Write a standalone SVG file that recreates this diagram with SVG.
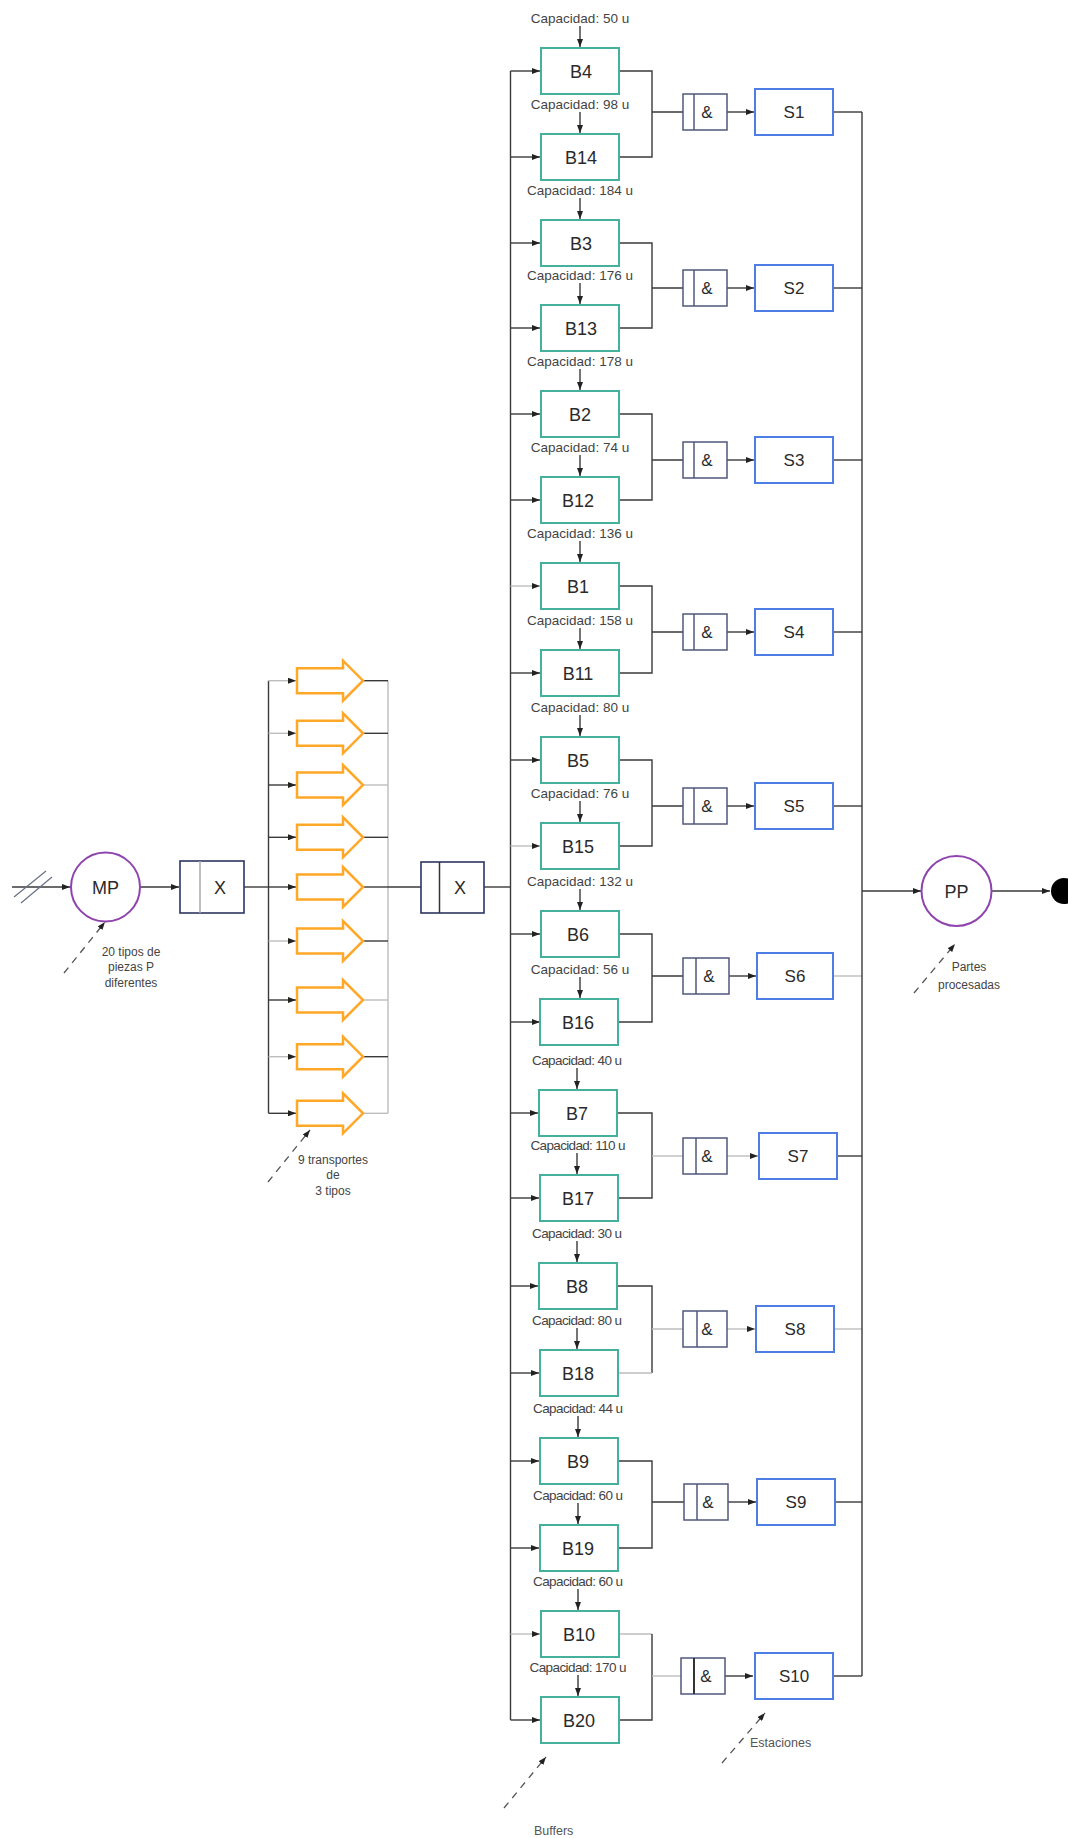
<svg xmlns="http://www.w3.org/2000/svg" xmlns:xlink="http://www.w3.org/1999/xlink" width="1068" height="1838" viewBox="0 0 1068 1838">
<style>
.bx{fill:#fff;stroke:#45b09c;stroke-width:2}
.st{fill:#fff;stroke:#4f7de6;stroke-width:2}
.gt{fill:#fff;stroke:#50577e;stroke-width:1.5}
.xg{fill:#fff;stroke:#2d3561;stroke-width:1.6}
.dv{stroke:#50577e;stroke-width:1.5}
.ci{fill:#fff;stroke:#8e44ad;stroke-width:2}
.tr{fill:#fff;stroke:#ffa726;stroke-width:2.5}
.ln{fill:none;stroke:#3a3a3a;stroke-width:1.4}
.lt{stroke:#bdbdbd}
.ds{fill:none;stroke:#555;stroke-width:1.3;stroke-dasharray:7 6}
.cap{font-family:"Liberation Sans",Arial,sans-serif;font-size:13.5px;fill:#444;text-anchor:middle}
.lbl{font-family:"Liberation Sans",Arial,sans-serif;font-size:18px;fill:#2a2a2a;text-anchor:middle}
.sl{font-family:"Liberation Sans",Arial,sans-serif;font-size:17px;fill:#2a2a2a;text-anchor:middle}
.ann{font-family:"Liberation Sans",Arial,sans-serif;font-size:12px;fill:#444;text-anchor:middle}
.ann2{font-family:"Liberation Sans",Arial,sans-serif;font-size:12.5px;fill:#555;text-anchor:start}
</style>
<defs>
<marker id="ah" viewBox="0 0 8 6" refX="8" refY="3" markerWidth="8" markerHeight="6" markerUnits="userSpaceOnUse" orient="auto"><path d="M0,0 L8,3 L0,6 z" fill="#222"/></marker>
<path id="trp" class="tr" d="M0,-12.5 H46 V-20 L66,0 L46,20 V12.5 H0 Z"/>
</defs>
<rect width="1068" height="1838" fill="#fff"/>

<g id="connectors">
<line class="ln" x1="12" y1="887" x2="70" y2="887" marker-end="url(#ah)"/>
<line x1="14" y1="897" x2="46" y2="871" stroke="#6a7085" stroke-width="1.2"/>
<line x1="21" y1="903" x2="52" y2="877" stroke="#6a7085" stroke-width="1.2"/>
<line class="ln" x1="140" y1="887" x2="179" y2="887" marker-end="url(#ah)"/>
<line class="ln" x1="244" y1="887" x2="268.5" y2="887"/>
<line class="ln" x1="268.5" y1="680.7" x2="268.5" y2="1113.3"/>
<line class="ln lt" x1="388" y1="680.7" x2="388" y2="1113.3"/>
<line class="ln lt" x1="268.5" y1="680.7" x2="296" y2="680.7" marker-end="url(#ah)"/>
<line class="ln lt" x1="268.5" y1="733.3" x2="296" y2="733.3" marker-end="url(#ah)"/>
<line class="ln" x1="268.5" y1="785" x2="296" y2="785" marker-end="url(#ah)"/>
<line class="ln" x1="268.5" y1="837.3" x2="296" y2="837.3" marker-end="url(#ah)"/>
<line class="ln" x1="268.5" y1="887" x2="296" y2="887" marker-end="url(#ah)"/>
<line class="ln lt" x1="268.5" y1="941" x2="296" y2="941" marker-end="url(#ah)"/>
<line class="ln" x1="268.5" y1="1000" x2="296" y2="1000" marker-end="url(#ah)"/>
<line class="ln lt" x1="268.5" y1="1056.7" x2="296" y2="1056.7" marker-end="url(#ah)"/>
<line class="ln" x1="268.5" y1="1113.3" x2="296" y2="1113.3" marker-end="url(#ah)"/>
<line class="ln" x1="363" y1="680.7" x2="388" y2="680.7"/>
<line class="ln" x1="363" y1="733.3" x2="388" y2="733.3"/>
<line class="ln lt" x1="363" y1="785" x2="388" y2="785"/>
<line class="ln" x1="363" y1="837.3" x2="388" y2="837.3"/>
<line class="ln" x1="363" y1="887" x2="388" y2="887"/>
<line class="ln" x1="363" y1="941" x2="388" y2="941"/>
<line class="ln lt" x1="363" y1="1000" x2="388" y2="1000"/>
<line class="ln" x1="363" y1="1056.7" x2="388" y2="1056.7"/>
<line class="ln lt" x1="363" y1="1113.3" x2="388" y2="1113.3"/>
<line class="ln" x1="388" y1="887" x2="421" y2="887"/>
<line class="ln" x1="484" y1="887" x2="510.5" y2="887"/>
<line class="ln" x1="510.5" y1="71" x2="510.5" y2="1720"/>
<g id="bus-arrows">
<line class="ln" x1="510.5" y1="71" x2="540" y2="71" marker-end="url(#ah)"/>
<line class="ln" x1="510.5" y1="157" x2="540" y2="157" marker-end="url(#ah)"/>
<line class="ln" x1="510.5" y1="243" x2="540" y2="243" marker-end="url(#ah)"/>
<line class="ln" x1="510.5" y1="328" x2="540" y2="328" marker-end="url(#ah)"/>
<line class="ln" x1="510.5" y1="414" x2="540" y2="414" marker-end="url(#ah)"/>
<line class="ln" x1="510.5" y1="500" x2="540" y2="500" marker-end="url(#ah)"/>
<line class="ln lt" x1="510.5" y1="586" x2="540" y2="586" marker-end="url(#ah)"/>
<line class="ln" x1="510.5" y1="673" x2="540" y2="673" marker-end="url(#ah)"/>
<line class="ln" x1="510.5" y1="760" x2="540" y2="760" marker-end="url(#ah)"/>
<line class="ln lt" x1="510.5" y1="846" x2="540" y2="846" marker-end="url(#ah)"/>
<line class="ln" x1="510.5" y1="934" x2="540" y2="934" marker-end="url(#ah)"/>
<line class="ln" x1="510.5" y1="1022" x2="540" y2="1022" marker-end="url(#ah)"/>
<line class="ln" x1="510.5" y1="1113" x2="538" y2="1113" marker-end="url(#ah)"/>
<line class="ln" x1="510.5" y1="1198" x2="539" y2="1198" marker-end="url(#ah)"/>
<line class="ln" x1="510.5" y1="1286" x2="538" y2="1286" marker-end="url(#ah)"/>
<line class="ln" x1="510.5" y1="1373" x2="539" y2="1373" marker-end="url(#ah)"/>
<line class="ln" x1="510.5" y1="1461" x2="539" y2="1461" marker-end="url(#ah)"/>
<line class="ln" x1="510.5" y1="1548" x2="539" y2="1548" marker-end="url(#ah)"/>
<line class="ln lt" x1="510.5" y1="1634" x2="540" y2="1634" marker-end="url(#ah)"/>
<line class="ln" x1="510.5" y1="1720" x2="540" y2="1720" marker-end="url(#ah)"/>
</g>
<g id="cap-arrows">
<line class="ln" x1="580" y1="26" x2="580" y2="47" marker-end="url(#ah)"/>
<line class="ln" x1="580" y1="112" x2="580" y2="133" marker-end="url(#ah)"/>
<line class="ln" x1="580" y1="198" x2="580" y2="219" marker-end="url(#ah)"/>
<line class="ln" x1="580" y1="283" x2="580" y2="304" marker-end="url(#ah)"/>
<line class="ln" x1="580" y1="369" x2="580" y2="390" marker-end="url(#ah)"/>
<line class="ln" x1="580" y1="455" x2="580" y2="476" marker-end="url(#ah)"/>
<line class="ln" x1="580" y1="541" x2="580" y2="562" marker-end="url(#ah)"/>
<line class="ln" x1="580" y1="628" x2="580" y2="649" marker-end="url(#ah)"/>
<line class="ln" x1="580" y1="715" x2="580" y2="736" marker-end="url(#ah)"/>
<line class="ln" x1="580" y1="801" x2="580" y2="822" marker-end="url(#ah)"/>
<line class="ln" x1="580" y1="889" x2="580" y2="910" marker-end="url(#ah)"/>
<line class="ln" x1="580" y1="977" x2="580" y2="998" marker-end="url(#ah)"/>
<line class="ln" x1="577" y1="1068" x2="577" y2="1089" marker-end="url(#ah)"/>
<line class="ln" x1="577" y1="1153" x2="577" y2="1174" marker-end="url(#ah)"/>
<line class="ln" x1="577" y1="1241" x2="577" y2="1262" marker-end="url(#ah)"/>
<line class="ln" x1="577" y1="1328" x2="577" y2="1349" marker-end="url(#ah)"/>
<line class="ln" x1="578" y1="1416" x2="578" y2="1437" marker-end="url(#ah)"/>
<line class="ln" x1="578" y1="1503" x2="578" y2="1524" marker-end="url(#ah)"/>
<line class="ln" x1="578" y1="1589" x2="578" y2="1610" marker-end="url(#ah)"/>
<line class="ln" x1="578" y1="1675" x2="578" y2="1696" marker-end="url(#ah)"/>
</g>
<g id="joins">
<path class="ln" d="M619,71 H652 V157 H619 M652,112 H683"/>
<path class="ln" d="M619,243 H652 V328 H619 M652,288 H683"/>
<path class="ln" d="M619,414 H652 V500 H619 M652,460 H683"/>
<path class="ln" d="M619,586 H652 V673 H619 M652,632 H683"/>
<path class="ln" d="M619,760 H652 V846 H619 M652,806 H683"/>
<path class="ln" d="M619,934 H652 V1022 H618 M652,976 H683"/>
<path class="ln" d="M617,1113 H652 V1198 H618"/><path class="ln lt" d="M652,1156 H683"/>
<path class="ln" d="M617,1286 H652 V1373"/><path class="ln lt" d="M652,1373 H618 M652,1329 H683"/>
<path class="ln" d="M618,1461 H652 V1548 H618 M652,1502 H684"/>
<path class="ln lt" d="M619,1634 H652"/><path class="ln" d="M652,1634 V1720 H619"/><path class="ln lt" d="M652,1676 H681"/>
</g>
<g id="gate-arrows">
<line class="ln" x1="727" y1="112" x2="754" y2="112" marker-end="url(#ah)"/>
<line class="ln" x1="727" y1="288" x2="754" y2="288" marker-end="url(#ah)"/>
<line class="ln" x1="727" y1="460" x2="754" y2="460" marker-end="url(#ah)"/>
<line class="ln" x1="727" y1="632" x2="754" y2="632" marker-end="url(#ah)"/>
<line class="ln" x1="727" y1="806" x2="754" y2="806" marker-end="url(#ah)"/>
<line class="ln" x1="729" y1="976" x2="756" y2="976" marker-end="url(#ah)"/>
<line class="ln lt" x1="727" y1="1156" x2="758" y2="1156" marker-end="url(#ah)"/>
<line class="ln lt" x1="727" y1="1329" x2="755" y2="1329" marker-end="url(#ah)"/>
<line class="ln" x1="728" y1="1502" x2="756" y2="1502" marker-end="url(#ah)"/>
<line class="ln" x1="725" y1="1676" x2="753" y2="1676" marker-end="url(#ah)"/>
</g>
<g id="station-out">
<line class="ln" x1="833" y1="112" x2="862" y2="112"/>
<line class="ln" x1="833" y1="288" x2="862" y2="288"/>
<line class="ln" x1="833" y1="460" x2="862" y2="460"/>
<line class="ln" x1="833" y1="632" x2="862" y2="632"/>
<line class="ln" x1="833" y1="806" x2="862" y2="806"/>
<line class="ln lt" x1="833" y1="976" x2="862" y2="976"/>
<line class="ln" x1="837" y1="1156" x2="862" y2="1156"/>
<line class="ln lt" x1="834" y1="1329" x2="862" y2="1329"/>
<line class="ln" x1="835" y1="1502" x2="862" y2="1502"/>
<line class="ln" x1="833" y1="1676" x2="862" y2="1676"/>
<line class="ln" x1="862" y1="112" x2="862" y2="1676"/>
</g>
<line class="ln" x1="862" y1="891" x2="921" y2="891" marker-end="url(#ah)"/>
<line class="ln" x1="992" y1="891" x2="1050" y2="891" marker-end="url(#ah)"/>
<line class="ds" x1="64" y1="973" x2="105" y2="922" marker-end="url(#ah)"/>
<line class="ds" x1="268" y1="1182" x2="310" y2="1130" marker-end="url(#ah)"/>
<line class="ds" x1="914" y1="993" x2="955" y2="944" marker-end="url(#ah)"/>
<line class="ds" x1="504" y1="1808" x2="546" y2="1757" marker-end="url(#ah)"/>
<line class="ds" x1="722" y1="1763" x2="765" y2="1713" marker-end="url(#ah)"/>
</g>

<g id="MP"><circle class="ci" cx="105.5" cy="887" r="34.5"/><text class="lbl" x="105.5" y="893.5">MP</text></g>
<g id="X1"><rect class="xg" x="180" y="861" width="64" height="52"/><line x1="200" y1="861" x2="200" y2="913" stroke="#aaa" stroke-width="1.5"/><text class="lbl" x="220" y="893.5">X</text></g>
<g id="X2"><rect class="xg" x="421" y="862" width="63" height="51"/><line x1="439.5" y1="862" x2="439.5" y2="913" stroke="#333" stroke-width="1.5"/><text class="lbl" x="460" y="893.5">X</text></g>
<g id="PP"><circle class="ci" cx="956.5" cy="891" r="35"/><text class="lbl" x="956.5" y="897.5">PP</text></g>
<g id="end"><circle cx="1064" cy="891" r="13" fill="#000"/></g>

<g id="transports">
<g id="T1"><use xlink:href="#trp" x="297" y="680.7"/></g>
<g id="T2"><use xlink:href="#trp" x="297" y="733.3"/></g>
<g id="T3"><use xlink:href="#trp" x="297" y="785"/></g>
<g id="T4"><use xlink:href="#trp" x="297" y="837.3"/></g>
<g id="T5"><use xlink:href="#trp" x="297" y="887"/></g>
<g id="T6"><use xlink:href="#trp" x="297" y="941"/></g>
<g id="T7"><use xlink:href="#trp" x="297" y="1000"/></g>
<g id="T8"><use xlink:href="#trp" x="297" y="1056.7"/></g>
<g id="T9"><use xlink:href="#trp" x="297" y="1113.3"/></g>
</g>

<g id="buffers">
<g id="B4"><text class="cap" x="580" y="23">Capacidad: 50 u</text><rect class="bx" x="541" y="48" width="78" height="46"/><text class="lbl" x="581" y="77.5">B4</text></g>
<g id="B14"><text class="cap" x="580" y="109">Capacidad: 98 u</text><rect class="bx" x="541" y="134" width="78" height="46"/><text class="lbl" x="581" y="163.5">B14</text></g>
<g id="B3"><text class="cap" x="580" y="195">Capacidad: 184 u</text><rect class="bx" x="541" y="220" width="78" height="46"/><text class="lbl" x="581" y="249.5">B3</text></g>
<g id="B13"><text class="cap" x="580" y="280">Capacidad: 176 u</text><rect class="bx" x="541" y="305" width="78" height="46"/><text class="lbl" x="581" y="334.5">B13</text></g>
<g id="B2"><text class="cap" x="580" y="366">Capacidad: 178 u</text><rect class="bx" x="541" y="391" width="78" height="46"/><text class="lbl" x="580" y="420.5">B2</text></g>
<g id="B12"><text class="cap" x="580" y="452">Capacidad: 74 u</text><rect class="bx" x="541" y="477" width="78" height="46"/><text class="lbl" x="578" y="506.5">B12</text></g>
<g id="B1"><text class="cap" x="580" y="538">Capacidad: 136 u</text><rect class="bx" x="541" y="563" width="78" height="46"/><text class="lbl" x="578" y="592.5">B1</text></g>
<g id="B11"><text class="cap" x="580" y="625">Capacidad: 158 u</text><rect class="bx" x="541" y="650" width="78" height="46"/><text class="lbl" x="578" y="679.5">B11</text></g>
<g id="B5"><text class="cap" x="580" y="712">Capacidad: 80 u</text><rect class="bx" x="541" y="737" width="78" height="46"/><text class="lbl" x="578" y="766.5">B5</text></g>
<g id="B15"><text class="cap" x="580" y="798">Capacidad: 76 u</text><rect class="bx" x="541" y="823" width="78" height="46"/><text class="lbl" x="578" y="852.5">B15</text></g>
<g id="B6"><text class="cap" x="580" y="886">Capacidad: 132 u</text><rect class="bx" x="541" y="911" width="78" height="46"/><text class="lbl" x="578" y="940.5">B6</text></g>
<g id="B16"><text class="cap" x="580" y="974">Capacidad: 56 u</text><rect class="bx" x="540" y="999" width="78" height="46"/><text class="lbl" x="578" y="1028.5">B16</text></g>
<g id="B7"><text class="cap" x="577" y="1065" textLength="90">Capacidad: 40 u</text><rect class="bx" x="539" y="1090" width="78" height="46"/><text class="lbl" x="577" y="1119.5">B7</text></g>
<g id="B17"><text class="cap" x="578" y="1150" textLength="95">Capacidad: 110 u</text><rect class="bx" x="540" y="1175" width="78" height="46"/><text class="lbl" x="578" y="1204.5">B17</text></g>
<g id="B8"><text class="cap" x="577" y="1238" textLength="90">Capacidad: 30 u</text><rect class="bx" x="539" y="1263" width="78" height="46"/><text class="lbl" x="577" y="1292.5">B8</text></g>
<g id="B18"><text class="cap" x="577" y="1325" textLength="90">Capacidad: 80 u</text><rect class="bx" x="540" y="1350" width="78" height="46"/><text class="lbl" x="578" y="1379.5">B18</text></g>
<g id="B9"><text class="cap" x="578" y="1413" textLength="90">Capacidad: 44 u</text><rect class="bx" x="540" y="1438" width="78" height="46"/><text class="lbl" x="578" y="1467.5">B9</text></g>
<g id="B19"><text class="cap" x="578" y="1500" textLength="90">Capacidad: 60 u</text><rect class="bx" x="540" y="1525" width="78" height="46"/><text class="lbl" x="578" y="1554.5">B19</text></g>
<g id="B10"><text class="cap" x="578" y="1586" textLength="90">Capacidad: 60 u</text><rect class="bx" x="541" y="1611" width="78" height="46"/><text class="lbl" x="579" y="1640.5">B10</text></g>
<g id="B20"><text class="cap" x="578" y="1672" textLength="97">Capacidad: 170 u</text><rect class="bx" x="541" y="1697" width="78" height="46"/><text class="lbl" x="579" y="1726.5">B20</text></g>
</g>

<g id="gates">
<g id="G1"><rect class="gt" x="683" y="94" width="44" height="36"/><line class="dv" x1="694" y1="94" x2="694" y2="130"/><text class="sl" x="707" y="118">&amp;</text></g>
<g id="G2"><rect class="gt" x="683" y="270" width="44" height="36"/><line class="dv" x1="694" y1="270" x2="694" y2="306"/><text class="sl" x="707" y="294">&amp;</text></g>
<g id="G3"><rect class="gt" x="683" y="442" width="44" height="36"/><line class="dv" x1="694" y1="442" x2="694" y2="478"/><text class="sl" x="707" y="466">&amp;</text></g>
<g id="G4"><rect class="gt" x="683" y="614" width="44" height="36"/><line class="dv" x1="694" y1="614" x2="694" y2="650"/><text class="sl" x="707" y="638">&amp;</text></g>
<g id="G5"><rect class="gt" x="683" y="788" width="44" height="36"/><line class="dv" x1="694" y1="788" x2="694" y2="824"/><text class="sl" x="707" y="812">&amp;</text></g>
<g id="G6"><rect class="gt" x="683" y="958" width="46" height="36"/><line class="dv" x1="696" y1="958" x2="696" y2="994"/><text class="sl" x="709" y="982">&amp;</text></g>
<g id="G7"><rect class="gt" x="683" y="1138" width="44" height="36"/><line class="dv" x1="696" y1="1138" x2="696" y2="1174"/><text class="sl" x="707" y="1162">&amp;</text></g>
<g id="G8"><rect class="gt" x="683" y="1311" width="44" height="36"/><line class="dv" x1="697" y1="1311" x2="697" y2="1347"/><text class="sl" x="707" y="1335">&amp;</text></g>
<g id="G9"><rect class="gt" x="684" y="1484" width="44" height="36"/><line class="dv" x1="697" y1="1484" x2="697" y2="1520"/><text class="sl" x="708" y="1508">&amp;</text></g>
<g id="G10"><rect class="gt" x="681" y="1658" width="44" height="36"/><line x1="694" y1="1658" x2="694" y2="1694" stroke="#333" stroke-width="2"/><text class="sl" x="706" y="1682">&amp;</text></g>
</g>

<g id="stations">
<g id="S1"><rect class="st" x="755" y="89" width="78" height="46"/><text class="sl" x="794" y="118">S1</text></g>
<g id="S2"><rect class="st" x="755" y="265" width="78" height="46"/><text class="sl" x="794" y="294">S2</text></g>
<g id="S3"><rect class="st" x="755" y="437" width="78" height="46"/><text class="sl" x="794" y="466">S3</text></g>
<g id="S4"><rect class="st" x="755" y="609" width="78" height="46"/><text class="sl" x="794" y="638">S4</text></g>
<g id="S5"><rect class="st" x="755" y="783" width="78" height="46"/><text class="sl" x="794" y="812">S5</text></g>
<g id="S6"><rect class="st" x="757" y="953" width="76" height="46"/><text class="sl" x="795" y="982">S6</text></g>
<g id="S7"><rect class="st" x="759" y="1133" width="78" height="46"/><text class="sl" x="798" y="1162">S7</text></g>
<g id="S8"><rect class="st" x="756" y="1306" width="78" height="46"/><text class="sl" x="795" y="1335">S8</text></g>
<g id="S9"><rect class="st" x="757" y="1479" width="78" height="46"/><text class="sl" x="796" y="1508">S9</text></g>
<g id="S10"><rect class="st" x="755" y="1653" width="78" height="46"/><text class="sl" x="794" y="1682">S10</text></g>
</g>

<g id="annotations">
<text class="ann" x="131" y="956">20 tipos de</text>
<text class="ann" x="131" y="971">piezas P</text>
<text class="ann" x="131" y="987">diferentes</text>
<text class="ann" x="333" y="1164">9 transportes</text>
<text class="ann" x="333" y="1179">de</text>
<text class="ann" x="333" y="1195">3 tipos</text>
<text class="ann" x="969" y="971">Partes</text>
<text class="ann" x="969" y="989">procesadas</text>
<text class="ann2" x="750" y="1747">Estaciones</text>
<text class="ann2" x="534" y="1835">Buffers</text>
</g>
</svg>
